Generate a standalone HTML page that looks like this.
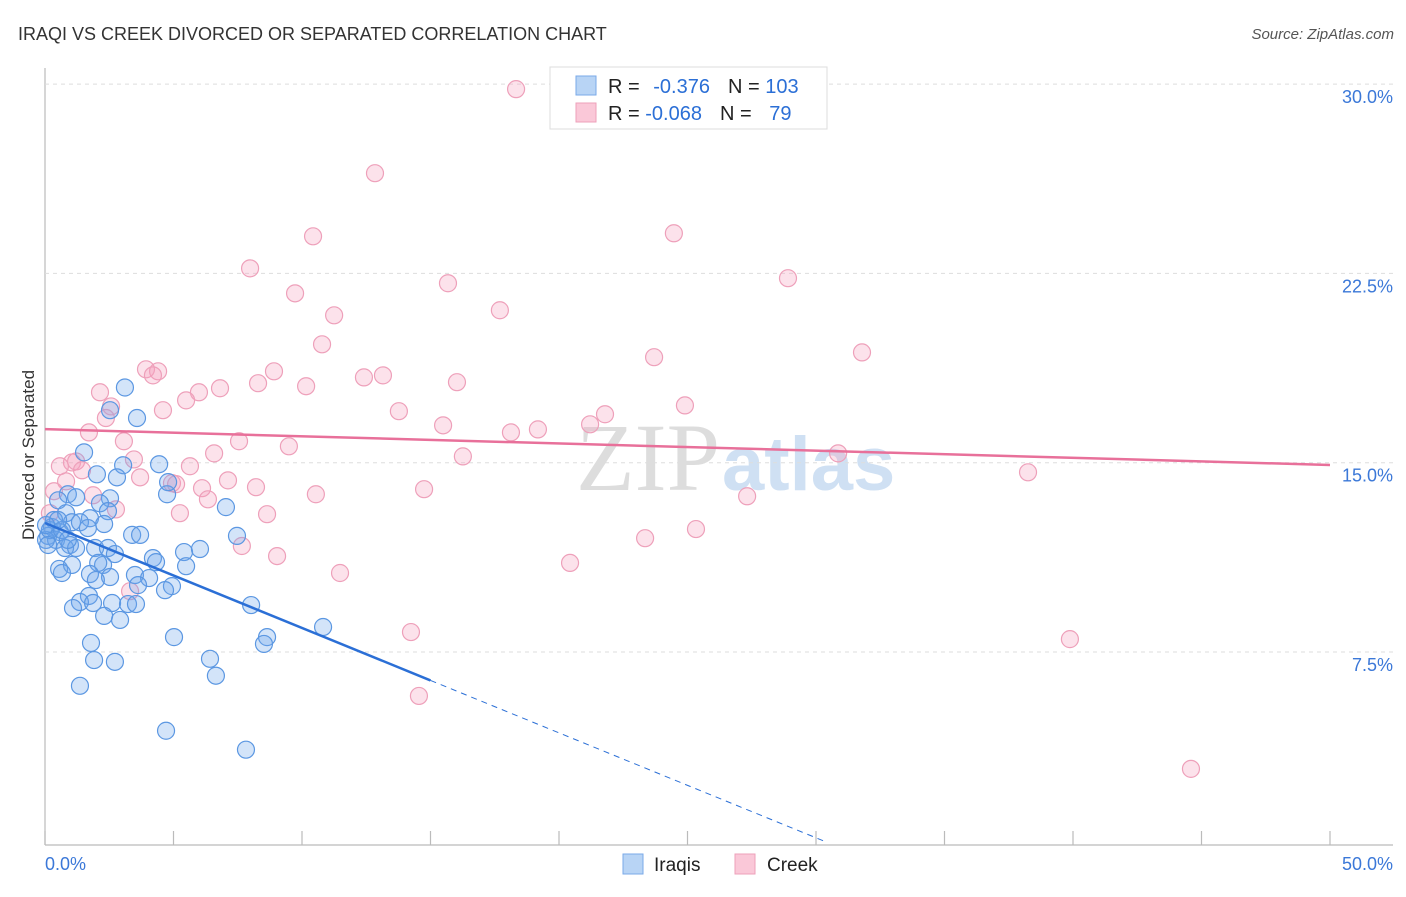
<!DOCTYPE html>
<html><head><meta charset="utf-8"><style>
body{margin:0;background:#fff;font-family:"Liberation Sans",sans-serif}
#wrap{position:relative;width:1406px;height:892px}
</style></head><body>
<div id="wrap">
<svg id="svg" width="1406" height="892" xmlns="http://www.w3.org/2000/svg">
<text x="18" y="40" font-size="18" fill="#333">IRAQI VS CREEK DIVORCED OR SEPARATED CORRELATION CHART</text>
<text x="1394" y="39" font-size="15" fill="#555" font-style="italic" text-anchor="end">Source: ZipAtlas.com</text>
<text transform="translate(34,455) rotate(-90)" font-size="17" fill="#333" text-anchor="middle">Divorced or Separated</text>
<text x="720" y="490" font-size="96" fill="#ddd" text-anchor="end" font-family="Liberation Serif">ZIP</text>
<text x="722" y="490" font-size="76" fill="#cfe0f3" font-weight="bold">atlas</text>
<g id="grid"></g><g id="pts"></g><g id="lines"></g>
<g>
<rect x="550" y="67" width="277" height="62" fill="#fff" stroke="#ddd"/>
<rect x="576" y="76" width="20" height="19" fill="#b8d4f5" stroke="#7aaae8"/>
<rect x="576" y="103" width="20" height="19" fill="#fac8d8" stroke="#eea0ba"/>
<text x="608" y="93" font-size="20" fill="#222">R = <tspan fill="#2b6fd6" dx="8">-0.376</tspan><tspan dx="18">N = </tspan><tspan fill="#2b6fd6">103</tspan></text>
<text x="608" y="120" font-size="20" fill="#222">R = <tspan fill="#2b6fd6">-0.068</tspan><tspan dx="18">N = </tspan><tspan fill="#2b6fd6" dx="12">79</tspan></text>
</g>
<g>
<rect x="623" y="854" width="20" height="20" fill="#b8d4f5" stroke="#7aaae8"/>
<text x="654" y="871" font-size="19" fill="#222">Iraqis</text>
<rect x="735" y="854" width="20" height="20" fill="#fac8d8" stroke="#eea0ba"/>
<text x="767" y="871" font-size="19" fill="#222">Creek</text>
</g>
</svg>
</div>
<script>
const yTicks=[7.5,15,22.5,30];
const yTickLabels=["7.5%","15.0%","22.5%","30.0%"];
const xTicks=[0,5,10,15,20,25,30,35,40,45,50];
const xTickLabels=["0.0%","50.0%"];
const iraqiX=[3.11,3.58,2.53,1.52,3.04,4.44,2.02,2.80,0.89,1.21,2.53,4.75,2.14,7.04,0.51,2.45,0.82,1.75,1.05,1.36,2.30,1.67,0.27,0.58,0.12,0.43,3.39,3.70,7.47,0.97,0.78,1.95,2.45,1.21,2.72,5.41,6.03,4.20,0.55,1.05,2.26,2.07,4.32,5.49,0.66,1.75,3.50,2.53,4.05,1.98,3.62,4.94,4.67,1.71,1.36,1.09,1.87,2.61,3.23,3.54,8.02,2.30,2.92,10.82,8.64,8.52,1.79,5.02,1.91,2.72,6.42,6.65,1.36,4.71,7.82,0.04,0.19,0.35,0.12,0.66,0.51,0.89,0.04,4.79];
const iraqiY=[17.98,16.77,17.08,15.41,14.90,14.94,14.54,14.42,13.75,13.63,13.59,13.75,13.39,13.24,13.51,13.08,13.00,12.80,12.64,12.64,12.57,12.41,12.45,12.25,12.10,11.94,12.14,12.14,12.10,11.74,11.62,11.62,11.62,11.62,11.38,11.46,11.58,11.22,10.79,10.95,10.95,11.03,11.06,10.90,10.63,10.59,10.55,10.47,10.43,10.35,10.15,10.11,9.95,9.72,9.48,9.24,9.44,9.44,9.40,9.40,9.36,8.93,8.77,8.49,8.09,7.82,7.86,8.09,7.18,7.11,7.23,6.56,6.16,4.38,3.63,11.94,12.33,12.73,11.74,12.33,12.73,11.94,12.53,14.23];
const creekX=[18.33,12.84,10.43,24.47,7.98,15.68,28.91,9.73,17.70,11.25,10.78,31.79,23.70,3.93,4.40,4.20,8.91,12.41,13.15,8.29,16.03,10.16,6.81,5.99,2.14,5.49,24.90,2.57,4.59,13.77,21.79,2.37,21.21,15.49,19.18,18.13,1.71,3.07,7.55,9.49,6.58,30.86,16.26,3.46,1.05,0.58,1.21,5.64,1.44,38.25,0.82,3.70,4.94,7.12,5.10,8.21,6.11,14.75,0.35,1.87,6.34,10.54,27.32,2.76,0.19,5.25,8.64,25.33,23.35,7.66,9.03,20.43,11.48,3.31,14.24,39.88,14.55,44.59];
const creekY=[29.80,26.47,23.97,24.09,22.70,22.11,22.31,21.71,21.04,20.84,19.69,19.37,19.18,18.70,18.62,18.46,18.62,18.38,18.46,18.15,18.19,18.03,17.95,17.79,17.79,17.47,17.27,17.23,17.08,17.04,16.92,16.77,16.52,16.48,16.32,16.20,16.20,15.85,15.85,15.65,15.37,15.37,15.25,15.13,15.01,14.86,15.05,14.86,14.70,14.62,14.26,14.42,14.19,14.30,14.15,14.03,13.99,13.95,13.87,13.71,13.55,13.75,13.67,13.15,13.00,13.00,12.96,12.37,12.01,11.70,11.30,11.03,10.63,9.91,8.29,8.01,5.76,2.87];
const iraqiTrend=[12.61,-0.4157];
const creekTrend=[16.33,-0.0284];
const NS="http://www.w3.org/2000/svg";
const X0=45,X1=1330,YB=841.3,PY=25.24;
const xs=v=>X0+(X1-X0)*v/50;
const ys=v=>YB-v*PY;
function mk(tag,attrs,parent){const e=document.createElementNS(NS,tag);for(const k in attrs)e.setAttribute(k,attrs[k]);parent.appendChild(e);return e;}
const svg=document.getElementById('svg');
const grid=document.getElementById('grid');
mk('line',{x1:45,y1:68,x2:45,y2:845,stroke:'#bbb','stroke-width':1.2},grid);
mk('line',{x1:45,y1:845,x2:1393,y2:845,stroke:'#bbb','stroke-width':1.2},grid);
yTicks.forEach((t,i)=>{
  const g=mk('line',{x1:45,y1:ys(t),x2:1393,y2:ys(t),stroke:'#ddd','stroke-dasharray':'4,4'},grid);
  
  
  const tx=mk('text',{x:1393,y:ys(t)+19,'font-size':18,fill:'#3b78d8','text-anchor':'end'},grid);
  tx.textContent=yTickLabels[i];
  
  
});
xTicks.forEach(t=>{
  const l=mk('line',{x1:xs(t),y1:831,x2:xs(t),y2:845,stroke:'#bbb','stroke-width':1.2},grid);
  
  
});
[[0,'start',45],[50,'end',1393]].forEach((a,i)=>{
  const tx=mk('text',{x:a[2],y:870,'font-size':18,fill:'#3b78d8','text-anchor':a[1]},grid);
  tx.textContent=xTickLabels[i];
  
  
});
const pts=document.getElementById('pts');
creekX.forEach((x,i)=>{
  const c=mk('circle',{cx:xs(x),cy:ys(creekY[i]),r:8.5,fill:'rgba(244,160,190,0.3)',stroke:'#eea0ba','stroke-width':1.2},pts);
  
  
});
iraqiX.forEach((x,i)=>{
  const c=mk('circle',{cx:xs(x),cy:ys(iraqiY[i]),r:8.5,fill:'rgba(110,165,235,0.3)',stroke:'#5b97e2','stroke-width':1.2},pts);
  
  
});
const lines=document.getElementById('lines');
const ct=mk('line',{x1:xs(0),y1:ys(creekTrend[0]),x2:xs(50),y2:ys(creekTrend[0]+creekTrend[1]*50),stroke:'#e8709a','stroke-width':2.5},lines);


const it=mk('line',{x1:xs(0),y1:ys(iraqiTrend[0]),x2:xs(15),y2:ys(iraqiTrend[0]+iraqiTrend[1]*15),stroke:'#2b6fd6','stroke-width':2.5},lines);


const xz=-iraqiTrend[0]/iraqiTrend[1];
const id=mk('line',{x1:xs(15),y1:ys(iraqiTrend[0]+iraqiTrend[1]*15),x2:xs(xz),y2:ys(0),stroke:'#2b6fd6','stroke-width':1,'stroke-dasharray':'6,5'},lines);


</script>
</body></html>
